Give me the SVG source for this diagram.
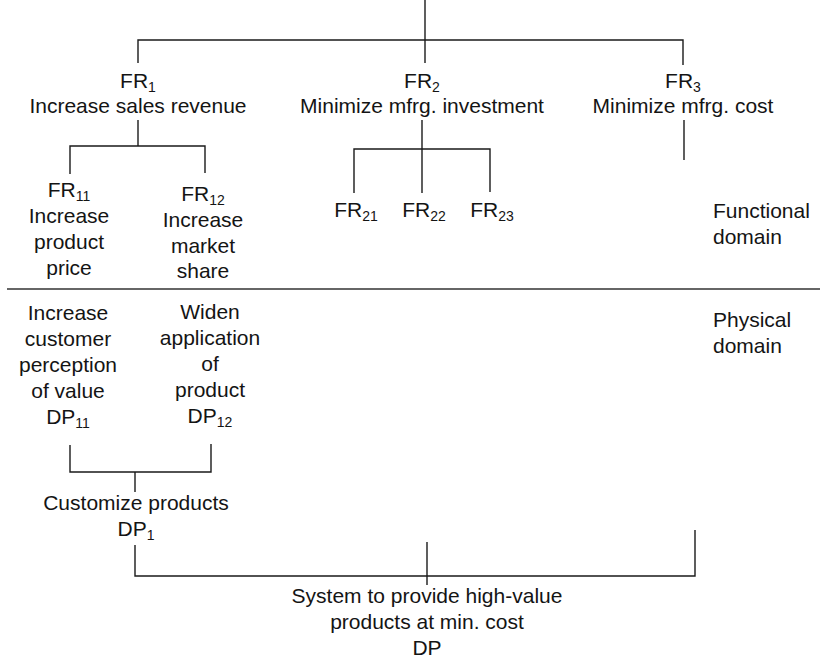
<svg xmlns="http://www.w3.org/2000/svg" width="820" height="660" viewBox="0 0 820 660">
  <style>
    text { font-family: "Liberation Sans", Arial, sans-serif; font-size: 21px; fill: #141414; text-anchor: middle; }
    text.left { text-anchor: start; }
    tspan.sub { font-size: 14px; }
    .conn line, .conn polyline { stroke: #1a1a1a; stroke-width: 1.4; fill: none; }
    .divider { stroke: #333; stroke-width: 1.6; }
  </style>
  <rect width="820" height="660" fill="#fff"/>

  <!-- connectors -->
  <g id="connectors" class="conn">
    <!-- top level: root stem and FR1/FR2/FR3 bracket -->
    <line x1="425" y1="0" x2="425" y2="63"/>
    <polyline points="138,63 138,40 683,40 683,65"/>
    <!-- FR1 decomposition -->
    <line x1="138" y1="120" x2="138" y2="146"/>
    <polyline points="70,174 70,146 205,146 205,173"/>
    <!-- FR2 decomposition -->
    <line x1="422" y1="120" x2="422" y2="193"/>
    <polyline points="354,193 354,149 490,149 490,192"/>
    <!-- FR3 stub -->
    <line x1="684" y1="120" x2="684" y2="160"/>
    <!-- DP11/DP12 bracket into DP1 -->
    <polyline points="70,445 70,472 211,472 211,444"/>
    <line x1="135" y1="472" x2="135" y2="492"/>
    <!-- DP1 and DP3 bracket into DP -->
    <polyline points="135,545 135,576 695,576 695,530"/>
    <line x1="427" y1="542" x2="427" y2="585"/>
  </g>

  <!-- domain boundary -->
  <line class="divider" x1="7" y1="289" x2="820" y2="289"/>

  <!-- functional requirements -->
  <g id="fr1">
    <text x="138" y="88">FR<tspan class="sub" dy="4">1</tspan></text>
    <text x="138" y="113">Increase sales revenue</text>
  </g>
  <g id="fr2">
    <text x="422" y="88">FR<tspan class="sub" dy="4">2</tspan></text>
    <text x="422" y="113">Minimize mfrg. investment</text>
  </g>
  <g id="fr3">
    <text x="683" y="88">FR<tspan class="sub" dy="4">3</tspan></text>
    <text x="683" y="113">Minimize mfrg. cost</text>
  </g>
  <g id="fr11">
    <text x="69" y="197">FR<tspan class="sub" dy="4">11</tspan></text>
    <text x="69" y="223">Increase</text>
    <text x="69" y="249">product</text>
    <text x="69" y="275">price</text>
  </g>
  <g id="fr12">
    <text x="203" y="201">FR<tspan class="sub" dy="4">12</tspan></text>
    <text x="203" y="227">Increase</text>
    <text x="203" y="253">market</text>
    <text x="203" y="278">share</text>
  </g>
  <g id="fr21">
    <text x="356" y="217">FR<tspan class="sub" dy="4">21</tspan></text>
  </g>
  <g id="fr22">
    <text x="424" y="217">FR<tspan class="sub" dy="4">22</tspan></text>
  </g>
  <g id="fr23">
    <text x="492" y="217">FR<tspan class="sub" dy="4">23</tspan></text>
  </g>

  <!-- domain labels -->
  <g id="functional-domain">
    <text class="left" x="713" y="218">Functional</text>
    <text class="left" x="713" y="244">domain</text>
  </g>
  <g id="physical-domain">
    <text class="left" x="713" y="327">Physical</text>
    <text class="left" x="713" y="353">domain</text>
  </g>

  <!-- design parameters -->
  <g id="dp11">
    <text x="68" y="320">Increase</text>
    <text x="68" y="346">customer</text>
    <text x="68" y="372">perception</text>
    <text x="68" y="398">of value</text>
    <text x="68" y="424">DP<tspan class="sub" dy="4">11</tspan></text>
  </g>
  <g id="dp12">
    <text x="210" y="319">Widen</text>
    <text x="210" y="345">application</text>
    <text x="210" y="371">of</text>
    <text x="210" y="397">product</text>
    <text x="210" y="423">DP<tspan class="sub" dy="4">12</tspan></text>
  </g>
  <g id="dp1">
    <text x="136" y="510">Customize products</text>
    <text x="136" y="536">DP<tspan class="sub" dy="4">1</tspan></text>
  </g>
  <g id="dp">
    <text x="427" y="603">System to provide high-value</text>
    <text x="427" y="629">products at min. cost</text>
    <text x="427" y="655">DP</text>
  </g>
</svg>
